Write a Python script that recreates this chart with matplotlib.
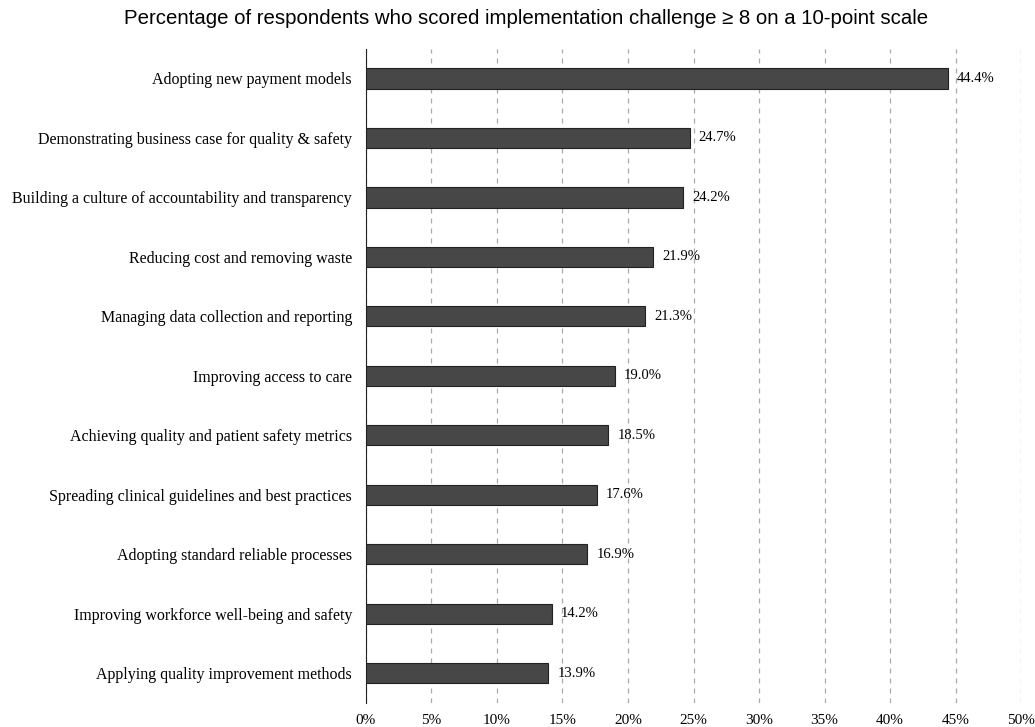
import numpy as np
import matplotlib.pyplot as plt

# Data
categories = [
    "Adopting new payment models",
    "Demonstrating business case for quality & safety",
    "Building a culture of accountability and transparency",
    "Reducing cost and removing waste",
    "Managing data collection and reporting",
    "Improving access to care",
    "Achieving quality and patient safety metrics",
    "Spreading clinical guidelines and best practices",
    "Adopting standard reliable processes",
    "Improving workforce well-being and safety",
    "Applying quality improvement methods",
]
values = [44.4, 24.7, 24.2, 21.9, 21.3, 19.0, 18.5, 17.6, 16.9, 14.2, 13.9]
xticks = np.arange(0, 55, 5)

fig = plt.figure(figsize=(10.35, 7.27), dpi=100)
ax = fig.add_axes([0.3536, 0.033, 0.6329, 0.9])

y = np.arange(len(categories))
ax.barh(y, values, height=0.34, color='#474747', edgecolor='#222222', linewidth=0.8, zorder=3)
for yi, v in zip(y, values):
    ax.text(v + 0.7, yi, f"{v:.1f}%", va='center', ha='left',
            family='Liberation Serif', fontsize=10.5)

ax.set_ylim(len(categories) - 0.5, -0.5)
ax.set_xlim(0, 50)
ax.set_yticks(y)
ax.set_yticklabels(categories, family='Liberation Serif', fontsize=11.5)
ax.set_xticks(xticks)
ax.set_xticklabels([f"{t}%" for t in xticks], family='Liberation Serif', fontsize=11)
ax.tick_params(axis='both', length=0)
ax.tick_params(axis='y', pad=10)
ax.tick_params(axis='x', pad=8)
ax.xaxis.grid(True, linestyle=(0, (4, 4)), color='#aaaaaa', linewidth=0.9, zorder=0)
for s in ['top', 'right', 'bottom']:
    ax.spines[s].set_visible(False)
ax.spines['left'].set_color('#222222')

fig.suptitle("Percentage of respondents who scored implementation challenge \u2265 8 on a 10-point scale",
             x=0.508, y=0.988, family='Liberation Sans', fontsize=14.7)

fig.savefig('out.png', dpi=100)
